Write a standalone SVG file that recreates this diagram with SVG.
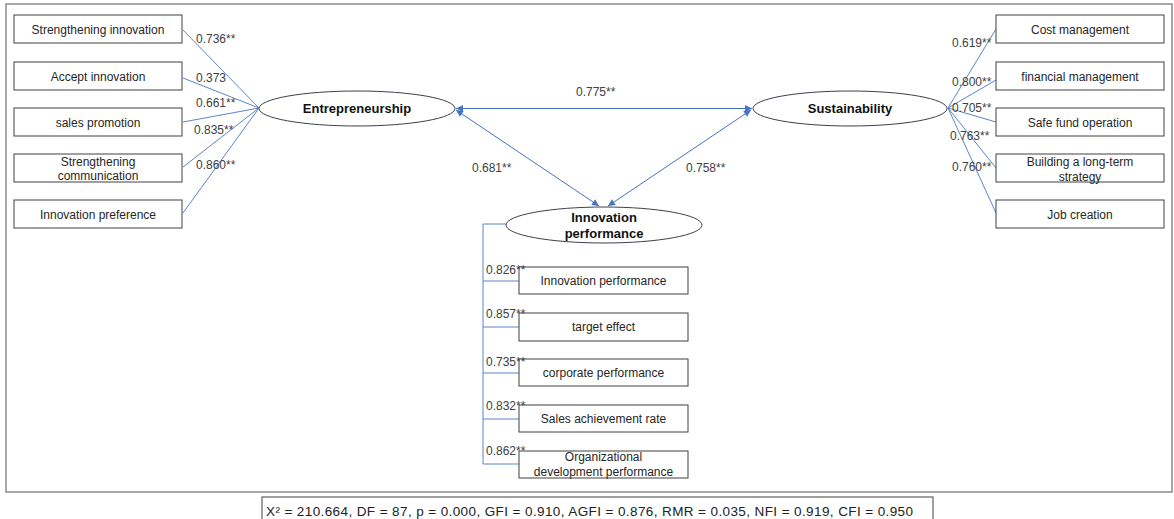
<svg xmlns="http://www.w3.org/2000/svg" width="1174" height="519" viewBox="0 0 1174 519">
<style>
.frame{fill:#fff;stroke:#8a8a8a;stroke-width:1.5}
.box{fill:#fff;stroke:#404040;stroke-width:1}
.ell{fill:#fff;stroke:#3a3f4a;stroke-width:1}
.bt{font-family:"Liberation Sans",Arial,sans-serif;font-size:12px;fill:#262626;text-anchor:middle}
.et{font-family:"Liberation Sans",Arial,sans-serif;font-size:13px;font-weight:bold;fill:#111;text-anchor:middle}
.lb{font-family:"Liberation Sans",Arial,sans-serif;font-size:12px;fill:#404040}
.ln{stroke:#5b84c9;stroke-width:1;fill:none}
.st{stroke:#4472c4;stroke-width:1;fill:none}
.cap{font-family:"Liberation Sans",Arial,sans-serif;font-size:13.5px;fill:#222}
</style>
<defs>
<marker id="ah" viewBox="0 0 10 10" refX="10" refY="5" markerWidth="8" markerHeight="7" markerUnits="userSpaceOnUse" orient="auto-start-reverse">
<path d="M0,0 L10,5 L0,10 z" fill="#4472c4"/>
</marker>
</defs>
<rect width="1174" height="519" fill="#fff"/>
<rect class="frame" x="6" y="4" width="1166" height="488"/>

<g id="connectors">
<path class="ln" d="M259,108 L183,30 M259,108 L183,78 M259,108 L183,122 M259,108 L183,167 M259,108 L183,213"/>
<path class="ln" d="M948,108 L996,29 M948,108 L996,80 M948,108 L996,122 M948,108 L996,168 M948,108 L996,213"/>
<path class="ln" d="M506,224 L483,224 L483,464 M483,281 L519,281 M483,327 L519,327 M483,373 L519,373 M483,419 L519,419 M483,464 L519,464"/>
<line class="st" x1="456" y1="108.5" x2="752" y2="108.5" marker-start="url(#ah)" marker-end="url(#ah)"/>
<line class="st" x1="456" y1="110" x2="599" y2="206" marker-start="url(#ah)" marker-end="url(#ah)"/>
<line class="st" x1="751" y1="110" x2="608" y2="206" marker-start="url(#ah)" marker-end="url(#ah)"/>
</g>

<g id="entrepreneurship">
<ellipse class="ell" cx="357" cy="108.5" rx="98" ry="17.5"/>
<text class="et" x="357" y="113">Entrepreneurship</text>
</g>
<g id="sustainability">
<ellipse class="ell" cx="850" cy="108.5" rx="97" ry="17.5"/>
<text class="et" x="850" y="113">Sustainability</text>
</g>
<g id="innovation-performance">
<ellipse class="ell" cx="604" cy="225" rx="98" ry="18"/>
<text class="et" x="604" y="221.5">Innovation</text>
<text class="et" x="604" y="237.5">performance</text>
</g>

<g id="e1"><rect class="box" x="14" y="15" width="168" height="28"/><text class="bt" x="98" y="33.5">Strengthening innovation</text></g>
<g id="e2"><rect class="box" x="14" y="62" width="168" height="28"/><text class="bt" x="98" y="80.5">Accept innovation</text></g>
<g id="e3"><rect class="box" x="14" y="108" width="168" height="28"/><text class="bt" x="98" y="126.5">sales promotion</text></g>
<g id="e4"><rect class="box" x="14" y="154" width="168" height="28"/><text class="bt" x="98" y="166">Strengthening</text><text class="bt" x="98" y="180">communication</text></g>
<g id="e5"><rect class="box" x="14" y="200" width="168" height="28"/><text class="bt" x="98" y="218.5">Innovation preference</text></g>

<g id="s1"><rect class="box" x="996" y="15" width="168" height="28"/><text class="bt" x="1080" y="33.5">Cost management</text></g>
<g id="s2"><rect class="box" x="996" y="62" width="168" height="28"/><text class="bt" x="1080" y="80.5">financial management</text></g>
<g id="s3"><rect class="box" x="996" y="108" width="168" height="28"/><text class="bt" x="1080" y="126.5">Safe fund operation</text></g>
<g id="s4"><rect class="box" x="996" y="154" width="168" height="28"/><text class="bt" x="1080" y="166">Building a long-term</text><text class="bt" x="1080" y="181">strategy</text></g>
<g id="s5"><rect class="box" x="996" y="200" width="168" height="28"/><text class="bt" x="1080" y="218.5">Job creation</text></g>

<g id="i1"><rect class="box" x="519" y="267" width="169" height="27"/><text class="bt" x="603.5" y="285">Innovation performance</text></g>
<g id="i2"><rect class="box" x="519" y="313" width="169" height="28"/><text class="bt" x="603.5" y="331">target effect</text></g>
<g id="i3"><rect class="box" x="519" y="359" width="169" height="27"/><text class="bt" x="603.5" y="377">corporate performance</text></g>
<g id="i4"><rect class="box" x="519" y="405" width="169" height="27"/><text class="bt" x="603.5" y="423">Sales achievement rate</text></g>
<g id="i5"><rect class="box" x="519" y="451" width="169" height="27"/><text class="bt" x="603.5" y="461">Organizational</text><text class="bt" x="603.5" y="476">development performance</text></g>

<g id="labels">
<text class="lb" x="196" y="43">0.736**</text>
<text class="lb" x="196" y="82">0.373</text>
<text class="lb" x="196" y="107">0.661**</text>
<text class="lb" x="194" y="134">0.835**</text>
<text class="lb" x="196" y="169">0.860**</text>
<text class="lb" x="952" y="47">0.619**</text>
<text class="lb" x="952" y="86">0.800**</text>
<text class="lb" x="952" y="112">0.705**</text>
<text class="lb" x="950" y="140">0.763**</text>
<text class="lb" x="952" y="171">0.760**</text>
<text class="lb" x="576" y="96">0.775**</text>
<text class="lb" x="472" y="172">0.681**</text>
<text class="lb" x="686" y="172">0.758**</text>
<text class="lb" x="486" y="274">0.826**</text>
<text class="lb" x="486" y="318">0.857**</text>
<text class="lb" x="486" y="366">0.735**</text>
<text class="lb" x="486" y="410">0.832**</text>
<text class="lb" x="486" y="455">0.862**</text>
</g>

<g id="caption">
<rect x="262" y="497" width="671" height="26" fill="#fff" stroke="#404040" stroke-width="1"/>
<text class="cap" x="266" y="515.5" textLength="647" lengthAdjust="spacing">X² = 210.664, DF = 87, p = 0.000, GFI = 0.910, AGFI = 0.876, RMR = 0.035, NFI = 0.919, CFI = 0.950</text>
</g>
</svg>
